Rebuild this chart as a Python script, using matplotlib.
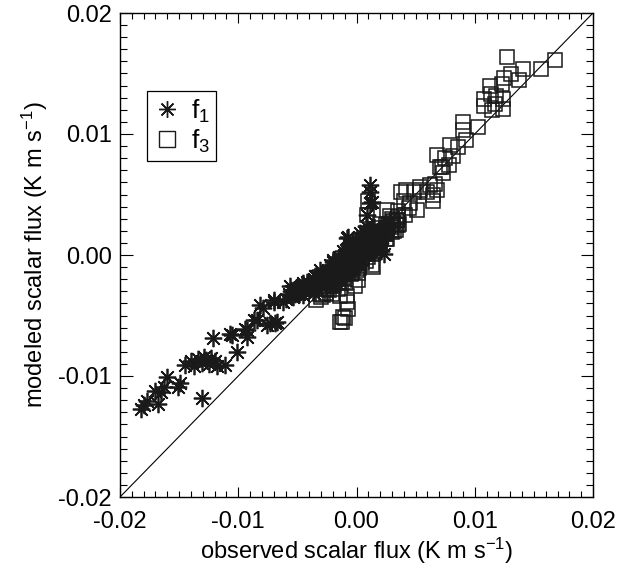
import matplotlib
matplotlib.use("Agg")
import matplotlib.pyplot as plt
from matplotlib.lines import Line2D
from matplotlib.ticker import MultipleLocator, FixedLocator

plt.rcParams['font.family'] = ['Liberation Sans', 'DejaVu Sans']
plt.rcParams['mathtext.default'] = 'regular'

# f1 (asterisks): observed, modeled -- scattered points
f1_obs = [-0.0182, -0.0180, -0.0177, -0.0168, -0.0170, -0.0165, -0.0163, -0.0160, -0.0151, -0.0149,
          -0.0131, -0.0145, -0.0140, -0.0137, -0.0134, -0.0131, -0.0129, -0.0127, -0.0125, -0.0123,
          -0.0120, -0.0118, -0.0111, -0.0101, -0.0121, -0.0107, -0.0105, -0.0093, -0.0094, -0.0084,
          -0.0079, -0.0076, -0.0069, -0.0070, -0.0062, -0.0082, -0.0070, -0.0056, -0.0042, -0.0031,
          -0.0020, -0.0093, -0.0087, -0.0073, -0.0067,
          -0.0060, -0.0057, -0.0054, -0.0051, -0.0049, -0.0046, -0.0044, -0.0041, -0.0039, -0.0037,
          -0.0035, -0.0033, -0.0031, -0.0029, -0.0027, -0.0025, -0.0023, -0.0021, -0.0019, -0.0017,
          -0.0016, -0.0014, -0.0013, -0.0011, -0.0010, -0.0008, -0.0007, -0.0005, -0.0004, -0.0002,
          -0.0001, 0.0001, 0.0002, 0.0004, 0.0005, 0.0007, 0.0009, 0.0011, 0.0013, 0.0016,
          0.0019, 0.0022, 0.0025, -0.0026, -0.0018, -0.0011, -0.0004, 0.0003, 0.0010, 0.0017,
          -0.0036, -0.0006, -0.0015, 0.0003, 0.0008, -0.0003,
          0.0011, 0.0011, 0.0013, 0.0009, -0.0008, 0.0021, 0.0023, 0.0011, -0.0007,
          -0.0055, -0.0052, -0.0047, -0.0042, -0.0038, -0.0034, -0.0030, -0.0026, -0.0022, -0.0018,
          -0.0015, -0.0012, -0.0009, -0.0006, -0.0003, 0.0000, 0.0003, 0.0006, 0.0009, 0.0012,
          0.0015, -0.0020, -0.0014, -0.0008, -0.0002, 0.0004, 0.0013, 0.0020, -0.0033, -0.0045,
          0.0000, 0.0006, -0.0009, 0.0015, -0.0022, -0.0035, -0.0045]
f1_mod = [-0.0127, -0.0124, -0.0121, -0.0123, -0.0112, -0.0113, -0.0109, -0.0101, -0.0109, -0.0106,
          -0.0118, -0.0091, -0.0088, -0.0092, -0.0086, -0.0089, -0.0084, -0.0087, -0.0090, -0.0085,
          -0.0088, -0.0092, -0.0091, -0.0080, -0.0069, -0.0065, -0.0066, -0.00675, -0.0061, -0.0054,
          -0.0044, -0.0058, -0.0056, -0.0039, -0.0039, -0.0041, -0.0037, -0.0026, -0.0022, -0.0012,
          -0.0004, -0.0062, -0.0054, -0.0056, -0.0055,
          -0.0036, -0.0032, -0.0035, -0.0029, -0.0032, -0.0027, -0.0030, -0.0024, -0.0028, -0.0022,
          -0.0026, -0.0019, -0.0024, -0.0017, -0.0021, -0.0014, -0.0019, -0.0012, -0.0017, -0.0009,
          -0.0014, -0.0006, -0.0011, -0.0003, -0.0008, 0.0000, -0.0005, 0.0003, -0.0002, 0.0006,
          0.0001, 0.0009, 0.0004, 0.0012, 0.0007, 0.0015, 0.0010, 0.0018, 0.0013, 0.0019,
          0.0015, 0.0021, 0.0018, -0.0026, -0.0022, -0.0016, -0.0010, -0.0003, 0.0004, 0.0009,
          -0.0031, 0.0008, -0.0002, 0.0018, 0.0024, 0.0012,
          0.0058, 0.0052, 0.0044, 0.0033, 0.0014, 0.0003, 0.0001, 0.0043, 0.0015,
          -0.0030, -0.0032, -0.0029, -0.0026, -0.0024, -0.0022, -0.0020, -0.0017, -0.0015, -0.0012,
          -0.0009, -0.0006, -0.0004, -0.0001, 0.0002, 0.0005, 0.0007, 0.0011, 0.0014, 0.0016,
          0.0017, -0.0020, -0.0017, -0.0012, -0.0005, 0.0000, 0.0008, 0.0012, -0.0028, -0.0033,
          0.0012, 0.0019, 0.0004, 0.0023, -0.0008, -0.0017, -0.0023]

# f1 saturated core (points packed in the solid dark band)
f1_core_obs = [-0.0055, -0.0054, -0.0050, -0.0051, -0.0045, -0.0046, -0.0040, -0.0041,
               -0.0035, -0.0036, -0.0034, -0.0030, -0.0031, -0.0029, -0.0025, -0.0026, -0.0024,
               -0.0020, -0.0021, -0.0019, -0.0020, -0.0015, -0.0016, -0.0014, -0.0015,
               -0.0010, -0.0011, -0.0009, -0.0010, -0.0011, -0.0005, -0.0006, -0.0004, -0.0005, -0.0006,
               0.0000, -0.0001, 0.0001, 0.0000, -0.0001, 0.0005, 0.0004, 0.0006, 0.0005, 0.0004,
               0.0010, 0.0009, 0.0011, 0.0010, 0.0009, 0.0015, 0.0016, 0.0014, 0.0020, 0.0019]
f1_core_mod = [-0.0033, -0.0029, -0.0031, -0.0027, -0.0029, -0.0025, -0.0026, -0.0022,
               -0.0024, -0.0020, -0.0017, -0.0022, -0.0018, -0.0015, -0.0020, -0.0016, -0.0012,
               -0.0017, -0.0013, -0.0009, -0.0006, -0.0015, -0.0011, -0.0007, -0.0003,
               -0.0012, -0.0008, -0.0004, 0.0000, 0.0003, -0.0010, -0.0006, -0.0002, 0.0002, 0.0006,
               -0.0007, -0.0003, 0.0001, 0.0005, 0.0009, -0.0003, 0.0001, 0.0005, 0.0009, 0.0014,
               0.0002, 0.0006, 0.0010, 0.0014, 0.0019, 0.0008, 0.0012, 0.0016, 0.0010, 0.0014]

# f3 (squares): observed, modeled -- scattered points
f3_obs = [0.0127, 0.0168, 0.0156, 0.0141, 0.0131, 0.0137, 0.0125, 0.0113, 0.0123, 0.0114,
          0.0118, 0.0108, 0.0124, 0.0108, 0.0117, 0.0124, 0.0115, 0.0090, 0.0103, 0.0090,
          0.0093, 0.0079, 0.0086, 0.0068, 0.0082, 0.0075, 0.0078, 0.0071, 0.0073, 0.0066,
          0.0062, 0.0042, 0.0054, 0.0065, 0.0049, 0.0040, 0.0044, 0.0035, 0.0009, 0.0026,
          0.0033, 0.0014, 0.0013, 0.00015, 0.00015, -0.0001, -0.0008, -0.0014, -0.0021, -0.0007,
          -0.0008, -0.0010, -0.00125, -0.0014, -0.0011, 0.0010,
          0.0038, 0.0054, 0.0060, 0.0068, 0.0045, 0.0051, 0.0041, 0.0065, 0.0072,
          -0.0034, -0.0031, -0.0028, -0.0026, -0.0023, -0.0021, -0.0019, -0.0017, -0.0015, -0.0013,
          -0.0011, -0.0009, -0.0007, -0.0005, -0.0003, -0.0001, 0.0001, 0.0003, 0.0005, 0.0007,
          0.0009, 0.0011, 0.0013, 0.0015, 0.0017, 0.0019, 0.0021, 0.0023, 0.0025, 0.0027,
          0.0029, 0.0031, 0.0033, 0.0035, 0.0004, 0.0012, 0.0020, -0.0006, -0.0016, 0.0028,
          -0.0024,
          -0.0030, -0.0026, -0.0022, -0.0018, -0.0014, -0.0010, -0.0006, -0.0002, 0.0002, 0.0006,
          0.0010, 0.0014, 0.0018, 0.0022, 0.0026, 0.0030, 0.0034, -0.0004, 0.0002, 0.0008,
          0.0014, 0.0020, 0.0026, 0.0032, -0.0010, 0.0000, 0.0010, 0.0020, 0.0030, 0.0036,
          -0.0016, -0.0009]
f3_mod = [0.0164, 0.0161, 0.0154, 0.0154, 0.0150, 0.0145, 0.0146, 0.0140, 0.0141, 0.0133,
          0.0131, 0.0129, 0.0129, 0.0123, 0.0125, 0.0121, 0.0120, 0.0110, 0.0106, 0.0103,
          0.0095, 0.0091, 0.0089, 0.0083, 0.0082, 0.0080, 0.0074, 0.0073, 0.0068, 0.0059,
          0.0058, 0.0054, 0.0054, 0.0050, 0.0052, 0.0045, 0.0039, 0.0036, 0.0033, 0.0037,
          0.0021, -0.0010, -0.0008, -0.0015, -0.0021, -0.0026, -0.0034, -0.0034, -0.0032, -0.0045,
          -0.0039, -0.0052, -0.0055, -0.0055, -0.0051, 0.0045,
          0.0052, 0.0056, 0.0052, 0.0054, 0.0043, 0.0037, 0.0033, 0.0045, 0.0073,
          -0.0037, -0.0032, -0.0033, -0.0028, -0.0029, -0.0024, -0.0026, -0.0020, -0.0022, -0.0016,
          -0.0019, -0.0012, -0.0015, -0.0008, -0.0011, -0.0004, -0.0007, 0.0000, -0.0003, 0.0004,
          0.0001, 0.0008, 0.0005, 0.0012, 0.0009, 0.0016, 0.0013, 0.0020, 0.0017, 0.0024,
          0.0021, 0.0028, 0.0025, 0.0031, 0.0009, 0.0018, 0.0026, -0.0001, -0.0011, 0.0032,
          -0.0020,
          -0.0035, -0.0031, -0.0026, -0.0022, -0.0018, -0.0014, -0.0010, -0.0006, -0.0002, 0.0002,
          0.0006, 0.0010, 0.0014, 0.0018, 0.0022, 0.0026, 0.0029, -0.0015, -0.0011, -0.0005,
          0.0001, 0.0007, 0.0013, 0.0020, -0.0005, 0.0004, 0.0014, 0.0022, 0.0030, 0.0026,
          -0.0028, -0.0023]

# f3 saturated core
f3_core_obs = [-0.0025, -0.0020, -0.0021, -0.0015, -0.0016, -0.0014, -0.0010, -0.0011, -0.0009, -0.0010,
               -0.0005, -0.0006, -0.0004, -0.0005, 0.0000, -0.0001, 0.0001, 0.0000,
               0.0005, 0.0004, 0.0006, 0.0005, 0.0010, 0.0009, 0.0011, 0.0010,
               0.0015, 0.0014, 0.0016, 0.0015, 0.0020, 0.0019, 0.0021, 0.0020,
               0.0025, 0.0024, 0.0026, 0.0025, 0.0030, 0.0029, 0.0031, 0.0035, 0.0034]
f3_core_mod = [-0.0028, -0.0025, -0.0020, -0.0023, -0.0018, -0.0014, -0.0020, -0.0016, -0.0012, -0.0008,
               -0.0016, -0.0012, -0.0008, -0.0004, -0.0012, -0.0008, -0.0004, 0.0000,
               -0.0007, -0.0003, 0.0001, 0.0005, -0.0002, 0.0002, 0.0006, 0.0010,
               0.0003, 0.0007, 0.0011, 0.0015, 0.0007, 0.0011, 0.0015, 0.0019,
               0.0013, 0.0017, 0.0021, 0.0025, 0.0019, 0.0023, 0.0027, 0.0025, 0.0029]

lims = [-0.02, 0.02]
tick_vals = [-0.02, -0.01, 0.0, 0.01, 0.02]
tick_labels = ['-0.02', '-0.01', '0.00', '0.01', '0.02']

fig = plt.figure(figsize=(6.31, 5.66), dpi=100)
ax = fig.add_axes([120/631, 69/566, 473/631, 484/566])

ast = (8, 2, 0)
mc = '#1a1a1a'
ax.plot(lims, lims, color='black', lw=0.8, zorder=1)
ax.plot(f3_obs + f3_core_obs, f3_mod + f3_core_mod, linestyle='none', marker='s', ms=10,
        mfc='none', mec=mc, mew=1.1, zorder=2)
ax.plot(f1_obs + f1_core_obs, f1_mod + f1_core_mod, linestyle='none', marker=ast, ms=12.5,
        mfc='none', mec=mc, mew=1.25, zorder=3)

ax.set_xlim(lims)
ax.set_ylim(lims)
ax.xaxis.set_major_locator(FixedLocator(tick_vals))
ax.yaxis.set_major_locator(FixedLocator(tick_vals))
ax.set_xticklabels(tick_labels)
ax.set_yticklabels(tick_labels)
ax.xaxis.set_minor_locator(MultipleLocator(0.001))
ax.yaxis.set_minor_locator(MultipleLocator(0.001))
ax.tick_params(axis='both', which='both', direction='in', top=True, right=True,
               labelsize=17, width=0.8, colors='black')
ax.tick_params(axis='x', which='major', length=7, pad=10)
ax.tick_params(axis='x', which='minor', length=4)
ax.tick_params(axis='y', which='major', length=9, pad=6)
ax.tick_params(axis='y', which='minor', length=5)
for s in ax.spines.values():
    s.set_linewidth(1.0)

ax.set_xlabel('observed scalar flux (K m s$^{-1}$)', fontsize=17, labelpad=2)
ax.set_ylabel('modeled scalar flux (K m s$^{-1}$)', fontsize=17, labelpad=6)

handles = [Line2D([], [], linestyle='none', marker=ast, ms=12, mfc='none', mec=mc, mew=1.0),
           Line2D([], [], linestyle='none', marker='s', ms=11, mfc='none', mec=mc, mew=1.0)]
leg = ax.legend(handles, ['f$_1$', 'f$_3$'], loc='upper left', bbox_to_anchor=(0.057, 0.839),
                borderaxespad=0, fancybox=False, framealpha=1, edgecolor='black',
                fontsize=19, handlelength=1.0, handletextpad=0.4, borderpad=0.25,
                labelspacing=0.1)
leg.get_frame().set_linewidth(0.9)

fig.savefig('out.png', dpi=100)
